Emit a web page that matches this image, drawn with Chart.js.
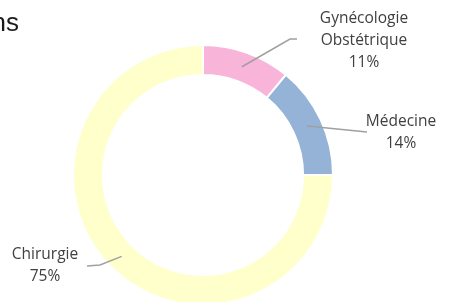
<!DOCTYPE html>
<html>
<head>
<meta charset="utf-8">
<script src="https://cdn.jsdelivr.net/npm/chart.js@4"></script>
<style>
  html, body { margin: 0; padding: 0; background: #fff; overflow: hidden; }
  canvas { display: block; }
</style>
</head>
<body>
<canvas id="chart" width="451" height="310"></canvas>
<script>
// 데이터
const labels  = ['Gynécologie\nObstétrique', 'Médecine', 'Chirurgie'];
const values  = [11, 14, 75];
const colors  = ['#F9B4D9', '#95B3D7', '#FFFFCC'];

// 라벨 위치 (링 중심 기준 오프셋) 및 꺾은선 경로
const labelPos = [
  { dx: 161, dy: -134, elbow: [[87, -136], [94, -136]] },
  { dx: 198, dy: -42,  elbow: [[164, -43]] },
  { dx: -158, dy: 91,  elbow: [[-103, 90], [-116, 91]] }
];

// 잘린 제목 조각
const titleText = 'ns';

const leaderPlugin = {
  id: 'leaders',
  afterDatasetsDraw(chart) {
    const ctx = chart.ctx;
    const meta = chart.getDatasetMeta(0);
    const total = values.reduce((a, b) => a + b, 0);
    ctx.save();
    meta.data.forEach((arc, i) => {
      const { x, y, startAngle, endAngle, innerRadius, outerRadius } = arc.getProps(['x', 'y', 'startAngle', 'endAngle', 'innerRadius', 'outerRadius'], true);
      const mid = (startAngle + endAngle) / 2;
      const r = (innerRadius + outerRadius) / 2;
      const ax = x + Math.cos(mid) * r;
      const ay = y + Math.sin(mid) * r;
      const p = labelPos[i];
      // 꺾은선
      ctx.strokeStyle = '#A0A0A0';
      ctx.lineWidth = 1.5;
      ctx.beginPath();
      ctx.moveTo(ax, ay);
      p.elbow.forEach(([ex, ey]) => ctx.lineTo(x + ex, y + ey));
      ctx.stroke();
      // 라벨 텍스트
      const lines = labels[i].split('\n');
      lines.push(Math.round(values[i] / total * 100) + '%');
      ctx.fillStyle = '#404040';
      ctx.font = '15.5px "Open Sans", sans-serif';
      ctx.textAlign = 'center';
      ctx.textBaseline = 'middle';
      const lh = 22;
      const top = y + p.dy - (lines.length - 1) * lh / 2;
      lines.forEach((t, k) => ctx.fillText(t, x + p.dx, top + k * lh));
    });
    // 제목 조각
    ctx.fillStyle = '#1a1a1a';
    ctx.font = '26px "Liberation Sans", Arial, sans-serif';
    ctx.textAlign = 'right';
    ctx.textBaseline = 'alphabetic';
    ctx.fillText(titleText, 19, 31);
    ctx.restore();
  }
};

new Chart(document.getElementById('chart').getContext('2d'), {
  type: 'doughnut',
  data: {
    labels: labels.map(l => l.replace('\n', ' ')),
    datasets: [{
      data: values,
      backgroundColor: colors,
      borderColor: '#ffffff',
      borderWidth: 2
    }]
  },
  options: {
    responsive: false,
    animation: false,
    cutout: '77%',
    layout: { padding: { top: 44, bottom: 4, left: 72, right: 117 } },
    plugins: {
      legend: { display: false },
      tooltip: { enabled: false }
    }
  },
  plugins: [leaderPlugin]
});
</script>
</body>
</html>
